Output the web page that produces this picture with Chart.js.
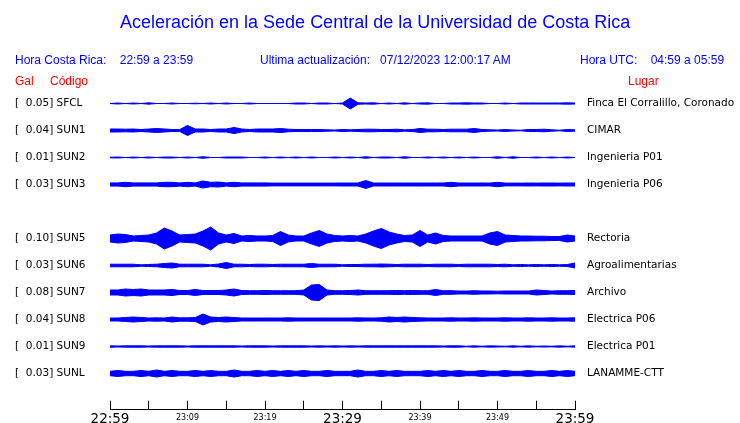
<!DOCTYPE html>
<html>
<head>
<meta charset="utf-8">
<script src="https://cdn.jsdelivr.net/npm/chart.js@4.4.1/dist/chart.umd.min.js"></script>
<style>
  body { margin: 0; background: #fff; }
  #wrap { position: relative; width: 740px; height: 423px; overflow: hidden; font-family: "Liberation Sans", Arial, sans-serif; }
  #wrap canvas { position: absolute; left: 0; top: 0; }
  .t { position: absolute; white-space: pre; line-height: 1; }
  .blue { color: #0000ff; }
  .red { color: #ff0000; }
  #title { left: 120px; top: 13px; font-size: 18px; }
  .hdr { font-size: 12px; top: 54px; }
  .lbl { font-size: 12px; top: 75px; }
</style>
</head>
<body>
<div id="wrap">
  <!-- canvas is a bit taller than the page so the time axis lands at y=409 -->
  <canvas id="sismo" width="740" height="428"></canvas>
  <div id="title" class="t blue">Aceleración en la Sede Central de la Universidad de Costa Rica</div>
  <div class="t blue hdr" style="left:15px">Hora Costa Rica:    22:59 a 23:59</div>
  <div class="t blue hdr" style="left:260px">Ultima actualización:   07/12/2023 12:00:17 AM</div>
  <div class="t blue hdr" style="left:580px">Hora UTC:    04:59 a 05:59</div>
  <div class="t red lbl" style="left:15px">Gal</div>
  <div class="t red lbl" style="left:50px">Código</div>
  <div class="t red lbl" style="left:628px">Lugar</div>
</div>
<script>
// amplitude envelope per minute (22:59 -> 23:59), half height
const ampSFCL = [0.5,1,0.5,1,0.5,1.2,0.5,0.5,1,0.5, 0.5,0.8,0.5,1,0.5,1,0.5,0.5,1,0.5, 0.5,0.5,0.5,0.5,1,1,0.5,1,1,0.5, 1,6,1.2,1,1.2,0.5,1,0.5,1.2,0.5, 1,1.2,0.5,0.5,1,1,1.2,1,1,0.5, 0.5,1,0.5,1,1,1,1,1,1,1.2, 1];
const ampSUN1 = [2,2,1.8,2,1.5,2,2.5,2,1.5,1.5, 5.5,2,2,1.5,2,2,3.5,2,1.5,2, 2,2,2.5,1.8,1.5,1.5,1.5,1.5,1.2,1, 1.5,1.2,1.5,1.8,1.8,1.5,1.5,1.8,1.2,1.5, 2.5,1.8,1.8,1.5,1.8,1.8,1.8,2.5,1.5,1.2, 1,1.5,1,0.8,1.5,1.5,1.8,1.2,0.8,1.5, 1.2];
const ampSUN2 = [0.8,1,0.5,1,0.5,1,0.5,1,1,0.5, 1,0.5,1.3,0.5,0.5,1,1,1,0.5,0.5, 1,0.5,1,0.5,1,0.5,1,0.5,0.5,1, 0.5,1,0.5,1.3,0.5,1,1,0.5,1.3,0.5, 0.5,1,0.5,1,0.5,1,0.5,1,0.5,0.5, 1.3,0.5,1.3,0.5,0.5,1,0.5,1,0.5,1, 0.5];
const ampSUN3 = [2.1,2.1,2.7,2.1,2.1,2.1,2.1,2.7,2.7,2.1, 2.7,2.1,4,2.7,3,2.1,2.7,2.1,2.1,2.1, 2.1,1.9,1.9,1.9,1.9,1.9,1.9,1.9,1.9,1.9, 2,2,2,4.5,2,2,2,2,2,2, 2,2,2,2,2.7,2,2,2,2,1.9, 2.7,1.9,1.9,1.9,2,1.9,2,2,1.9,2, 2];
const ampSUN5 = [4,5,4.5,3,3.5,4,6,11,8,4, 4.5,5,8,12,6,4,5.5,3,3.5,3, 3,3.5,7.5,4,3,3,6,8.5,5,3.5, 3,3.5,3,5,8,10.5,7,5,3.5,4, 8.5,4,6,3.5,3,3,3,3,3,6, 7.5,4,3.5,3,3,2.8,2.8,2.5,2.5,4, 3];
const ampSUN6 = [1.8,1.8,1.8,1.8,1.2,1.5,1.8,2.5,3,1.8, 1.8,1.8,1.8,1.2,2,3.5,1.8,1.8,1.5,1.8, 1.8,1.5,1.8,1.8,1.8,1.8,2.5,1.8,1.8,1.8, 1.2,1.5,1.5,1.8,1.8,2,1.8,1.5,1.8,1.8, 1.8,1.5,1.8,1.8,1.8,1.5,1.8,1.8,1.8,1.8, 1.5,1.8,1.2,1.5,1.2,1.5,1.2,1.5,1.2,1.5, 3];
const ampSUN7 = [3,3,4,3.5,4,3,3,3,3.5,2.5, 2.5,3.5,2.5,2.5,2.5,3,4,2.5,2.3,2.3, 2.5,2.3,2.3,2.3,2.3,3,8,8.5,3,2.3, 2.3,2.5,3,2.3,2.3,2.3,2.3,2.5,2.3,2.5, 2.3,2.3,3.5,2.3,2.3,2,2,2.3,2,2, 1.8,2,2,2,2,3,2.5,2,2.3,2.3, 2.5];
const ampSUN8 = [2,2,2.5,3,2.5,2,2.2,2,3,2.2, 2.2,2.5,6,3,2.5,3,2.5,2,2,2, 2,2,2,2.2,2,2,2,2,2,2, 2,2,2.2,2,2,2.2,3,2.5,3,2.5, 2.2,2,2,2,2.2,2,2,2.2,2,2, 2,2.2,2,2,2.2,2,2,2.2,2,2, 2.2];
const ampSUN9 = [1.2,1,1.2,1.2,1.2,1,1.2,1.2,1.2,1.2, 1,1.2,1.2,1.2,1.2,1.2,1.2,1,1.2,1.2, 1.2,1,1.2,1.2,1.2,1.2,1,1.2,1,1.2, 1,1.2,1,1.2,1.2,1.2,1.2,1.2,1.2,1.2, 1.2,1.2,1.2,1,1.2,1.2,0.8,1.2,0.8,1.2, 1,0.8,1.2,0.8,1.2,0.8,1,0.8,1.2,0.8, 1.2];
const ampSUNL = [2.7,3.5,2.7,2.7,3.5,2.7,4,2.7,3.5,2.7, 2.7,3.5,2.7,3.5,2.7,2.7,4,2.7,2.7,3.5, 2.7,3.5,2.7,3.5,2.7,3.5,2.7,2.7,3.5,2.7, 2.7,2.7,4,2.7,2.7,3.5,2.7,3.5,2.7,2.7, 2.7,3.5,2.7,3.5,2.7,3.5,2.7,2.7,3.5,2.7, 2.7,3.5,2.7,2.7,3.5,2.7,2.7,3.5,2.7,3.5, 2.7];

// one row per station, '' = empty row (no SUN4)
const codes  = ['SFCL', 'SUN1', 'SUN2', 'SUN3', '', 'SUN5', 'SUN6', 'SUN7', 'SUN8', 'SUN9', 'SUNL'];
const galMax = ['0.05', '0.04', '0.01', '0.03', '', '0.10', '0.03', '0.08', '0.04', '0.01', '0.03'];
const places = ['Finca El Corralillo, Coronado', 'CIMAR', 'Ingenieria P01', 'Ingenieria P06', '',
                'Rectoria', 'Agroalimentarias', 'Archivo', 'Electrica P06', 'Electrica P01', 'LANAMME-CTT'];
const traces = [ampSFCL, ampSUN1, ampSUN2, ampSUN3, null, ampSUN5, ampSUN6, ampSUN7, ampSUN8, ampSUN9, ampSUNL];

const tickMinutes = [0, 5, 10, 15, 20, 25, 30, 35, 40, 45, 50, 55, 60];
const labelMinutes = [0, 10, 20, 30, 40, 50, 60];
const timeLabels = ['22:59', '23:09', '23:19', '23:29', '23:39', '23:49', '23:59'];
const bigLabels = ['22:59', '23:29', '23:59'];

const BLUE = '#0000ff';
const rowPx = 27;

const datasets = [];
traces.forEach((amps, row) => {
    if (!amps) return;
    const edge = (sign) => amps.map((a, i) => ({ x: i, y: row + sign * Math.max(a - 0.5, 0) / rowPx }));
    datasets.push({ data: edge(-1), borderColor: BLUE, borderWidth: 1, pointRadius: 0, fill: false, tension: 0 });
    datasets.push({ data: edge(1), borderColor: BLUE, borderWidth: 1, pointRadius: 0, fill: '-1', backgroundColor: BLUE, tension: 0 });
});

function timeLabel(v) {
    const k = labelMinutes.indexOf(v);
    return k < 0 ? '' : timeLabels[k];
}

const rowTicks = (scale) => {
    scale.ticks = codes.map((c, i) => ({ value: i })).filter(t => codes[t.value] !== '');
};

const ctx = document.getElementById('sismo').getContext('2d');
new Chart(ctx, {
    type: 'line',
    data: { datasets },
    options: {
        responsive: false,
        animation: false,
        layout: { padding: { left: 15, right: 0, top: 90, bottom: 0 } },
        plugins: { legend: { display: false }, tooltip: { enabled: false }, title: { display: false } },
        scales: {
            x: {
                type: 'linear',
                min: 0,
                max: 60,
                afterBuildTicks: (s) => { s.ticks = tickMinutes.map(v => ({ value: v })); },
                afterFit: (s) => { s.height = 14; },
                ticks: {
                    autoSkip: false,
                    maxRotation: 0,
                    padding: 10,
                    color: '#000',
                    callback: (v) => timeLabel(v),
                    font: (c) => {
                        const big = bigLabels.includes(timeLabel(c.tick ? c.tick.value : -1));
                        return big ? { family: 'DejaVu Sans', size: 13.5, lineHeight: 18 / 13.5 }
                                   : { family: 'DejaVu Sans', size: 8, lineHeight: 13.8 / 8 };
                    }
                },
                // negative length: tick marks stand up from the axis line
                grid: { drawOnChartArea: false, drawTicks: true, tickLength: -9, color: '#000' },
                border: { color: '#000', width: 1 }
            },
            y: {
                type: 'linear',
                position: 'left',
                reverse: true,
                min: -0.5,
                max: 11.34,
                afterBuildTicks: rowTicks,
                afterFit: (s) => { s.width = 95; },
                ticks: {
                    crossAlign: 'far',
                    padding: 0,
                    color: '#000',
                    font: { family: 'DejaVu Sans', size: 10.5 },
                    callback: (v) => '[  ' + galMax[v] + '] ' + codes[v]
                },
                grid: { display: false, drawTicks: false },
                border: { display: false }
            },
            y2: {
                type: 'linear',
                position: 'right',
                reverse: true,
                min: -0.5,
                max: 11.34,
                afterBuildTicks: rowTicks,
                afterFit: (s) => { s.width = 165; },
                ticks: {
                    padding: 12,
                    color: '#000',
                    font: { family: 'DejaVu Sans', size: 10.5 },
                    callback: (v) => places[v]
                },
                grid: { display: false, drawTicks: false },
                border: { display: false }
            }
        }
    }
});
</script>
</body>
</html>
